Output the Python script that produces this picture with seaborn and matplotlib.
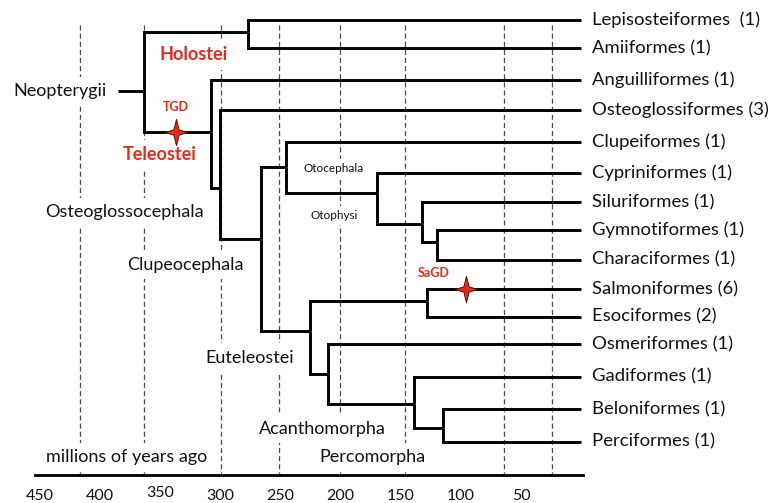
import numpy as np
import pandas as pd
import seaborn as sns
import matplotlib.pyplot as plt
from matplotlib.path import Path

# ---- data ----
# leaves, top to bottom; row = vertical slot, age in Ma (all extant)
leaf_keys = ['Lepi', 'Amii', 'Angu', 'Oste', 'Clup', 'Cypr', 'Silu', 'Gymn',
             'Char', 'Salm', 'Esoc', 'Osme', 'Gadi', 'Belo', 'Perc']
leaf_labels = ['Lepisosteiformes  (1)', 'Amiiformes (1)', 'Anguilliformes (1)',
               'Osteoglossiformes (3)', 'Clupeiformes (1)', 'Cypriniformes (1)',
               'Siluriformes (1)', 'Gymnotiformes (1)', 'Characiformes (1)',
               'Salmoniformes (6)', 'Esociformes (2)', 'Osmeriformes (1)',
               'Gadiformes (1)', 'Beloniformes (1)', 'Perciformes (1)']
leaf_rows = [0, 0.93, 1.99, 2.99, 4.05, 5.08, 6.04, 6.97, 7.96, 8.93,
             9.85, 10.75, 11.84, 12.91, 14.0]

# internal nodes: age of split (Ma), row where the stem joins, children
node_keys = ['Neop', 'Holo', 'Tele', 'Ogce', 'Clce', 'Otoc', 'Otop', 'nSil',
             'nCha', 'Eute', 'nSal', 'nOsm', 'Acan', 'Pcmo']
node_ages = [363, 277, 307.5, 300, 266, 245, 170, 132, 120, 225, 128, 210, 139, 115]
node_rows = [2.36, 0.40, 3.72, 5.57, 7.27, 4.88, 5.74, 6.77, 7.37, 10.32,
             9.32, 11.75, 12.74, 13.54]
node_children = [['Holo', 'Tele'], ['Lepi', 'Amii'], ['Angu', 'Ogce'],
                 ['Oste', 'Clce'], ['Otoc', 'Eute'], ['Clup', 'Otop'],
                 ['Cypr', 'nSil'], ['Silu', 'nCha'], ['Gymn', 'Char'],
                 ['nSal', 'nOsm'], ['Salm', 'Esoc'], ['Osme', 'Acan'],
                 ['Gadi', 'Pcmo'], ['Belo', 'Perc']]
root_stem_age = 385

# geological boundaries drawn as dashed lines (Ma)
period_bounds = [416, 363, 299, 251, 200, 146, 64, 24]
tick_values = [450, 400, 350, 300, 250, 200, 150, 100, 50]

# whole genome duplications
wgd_labels = ['TGD', 'SaGD']
wgd_ages = [336.5, 96]
wgd_rows = [3.72, 8.93]
wgd_label_ages = [336.5, 122.2]
wgd_label_rows = [2.89, 8.4]

# clade labels
clade_text = ['Neopterygii', 'Holostei', 'Teleostei', 'Osteoglossocephala',
              'Clupeocephala', 'Otocephala', 'Otophysi', 'Euteleostei',
              'Acanthomorpha', 'Percomorpha', 'millions of years ago']
clade_ages = [433.3, 322.0, 349.8, 379.7, 329.0, 205.3, 205.3, 275.5,
              214.8, 173.7, 377.6]
clade_rows = [2.36, 1.16, 4.48, 6.37, 8.13, 4.94, 6.50, 11.21, 13.57, 14.5, 14.5]
clade_size = [13, 13, 13, 13, 13, 8.5, 8.5, 13, 13, 13, 13]
clade_red = [False, True, True, False, False, False, False, False, False, False, False]

RED = '#e8281c'

# ---- build edges ----
ages = dict(zip(leaf_keys, [0] * len(leaf_keys)))
rows = dict(zip(leaf_keys, leaf_rows))
ages.update(zip(node_keys, node_ages))
rows.update(zip(node_keys, node_rows))

recs = []
eid = 0
recs += [(eid, root_stem_age, rows['Neop']), (eid, ages['Neop'], rows['Neop'])]
for key, kids in zip(node_keys, node_children):
    for kid in kids:
        eid += 1
        recs += [(eid, ages[key], rows[key]),
                 (eid, ages[key], rows[kid]),
                 (eid, ages[kid], rows[kid])]
edges = pd.DataFrame(recs, columns=['edge', 'age', 'row'])

# ---- figure ----
sns.set_style('white')
plt.rcParams['font.family'] = ['Lato', 'DejaVu Sans']

fig = plt.figure(figsize=(7.72, 5.03), dpi=100)
ax = fig.add_axes([35 / 772, 28 / 503, 548 / 772, 475 / 503])

ax.vlines(period_bounds, 0.15, 15.2, colors='#4a4a4a',
          linestyles=(0, (4, 2.5)), lw=0.9, zorder=1)

sns.lineplot(data=edges, x='age', y='row', units='edge', estimator=None,
             sort=False, color='black', lw=2.1, ax=ax, legend=False,
             zorder=4, solid_joinstyle='miter', solid_capstyle='butt')

star = Path([(0, 1), (0.2, 0.2), (0.86, 0), (0.2, -0.2), (0, -1),
             (-0.2, -0.2), (-0.86, 0), (-0.2, 0.2), (0, 1)],
            [Path.MOVETO] + [Path.LINETO] * 7 + [Path.CLOSEPOLY])
ax.scatter(wgd_ages, wgd_rows, marker=star, s=360, color=RED,
           edgecolor='#5c1008', linewidth=0.7, zorder=5)

box = dict(facecolor='white', edgecolor='none', boxstyle='square,pad=0.35')
for t, a, r, fs, red in zip(clade_text, clade_ages, clade_rows, clade_size, clade_red):
    ax.text(a, r, t, ha='center', va='center', fontsize=fs,
            color=RED if red else '#111111',
            fontweight='bold' if red else 'normal', bbox=box, zorder=3)

for t, a, r in zip(wgd_labels, wgd_label_ages, wgd_label_rows):
    ax.text(a, r, t, ha='center', va='center', fontsize=9,
            color=RED, fontweight='bold', zorder=3)

for lab, r in zip(leaf_labels, leaf_rows):
    ax.text(-9, r, lab, ha='left', va='center', fontsize=13.3, color='#111111')

ax.set_xlim(453.7, -1.5)
ax.set_ylim(15.10, -0.664)
ax.set_xticks(tick_values)
ax.set_xticklabels([str(v) for v in tick_values])
ax.set_yticks([])
ax.set_xlabel('')
ax.set_ylabel('')
ax.tick_params(axis='x', length=0, pad=10, labelsize=11.5, labelcolor='#111111')
for side in ['top', 'left', 'right']:
    ax.spines[side].set_visible(False)
ax.spines['bottom'].set_linewidth(2)
ax.spines['bottom'].set_color('black')
ax.get_xticklabels()[2].set_y(3 / 475)

fig.savefig('out.png', dpi=100)
